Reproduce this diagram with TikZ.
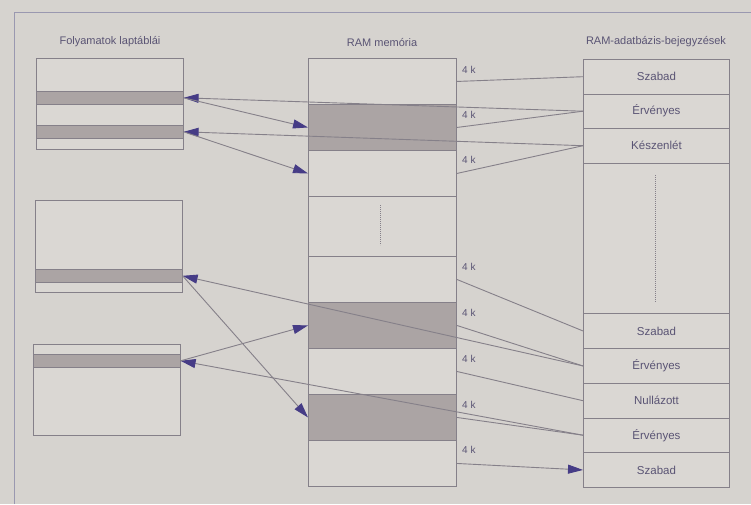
\documentclass[tikz,border=0pt]{standalone}
\usepackage{fontspec}
\setmainfont{Liberation Sans}
\usetikzlibrary{arrows.meta}
\definecolor{bg}{HTML}{D6D3CF}
\definecolor{boxc}{HTML}{DAD7D3}
\definecolor{dark}{HTML}{ABA4A4}
\definecolor{linec}{HTML}{858089}
\definecolor{framec}{HTML}{9A98B0}
\definecolor{txt}{HTML}{5A5474}
\definecolor{arrc}{HTML}{463C86}
\tikzset{
  cellbox/.style={draw=linec, line width=0.9pt, fill=boxc, rectangle, inner sep=0pt, anchor=north west, text=txt, font=\fontsize{11.5}{13}\selectfont},
  darkcell/.style={cellbox, fill=dark},
  stripebox/.style={draw=linec, line width=0.6pt, fill=dark, rectangle, inner sep=0pt, anchor=north west, minimum width=147, minimum height=13},
  conn/.style={draw=linec, line width=0.9pt},
  arr/.style={conn, -{Triangle[length=15pt,width=9pt,color=arrc]}},
  titletext/.style={text=txt, font=\fontsize{11}{13}\selectfont, inner sep=0pt},
  kb/.style={text=txt, font=\fontsize{10}{11}\selectfont, inner sep=0pt, anchor=west},
  dotline/.style={draw=linec, line width=0.9pt, dash pattern=on 0.8pt off 1.2pt}
}
\begin{document}
\begin{tikzpicture}[x=1pt,y=-1pt]
\fill[bg] (0,0) rectangle (751,504);
\useasboundingbox (0,0) rectangle (751,504);
\draw[framec, line width=0.9pt] (14,504) -- (14,12) -- (751,12);

% titles
\node[titletext] (t1) at (110,42) {Folyamatok laptáblái};
\node[titletext] (t2) at (382,42) {RAM memória};
\node[titletext] (t3) at (656,42) {RAM-adatbázis-bejegyzések};

% left page tables
\node[cellbox, minimum width=147, minimum height=91] (L1) at (36,58) {};
\node[stripebox] (s1) at (36,91) {};
\node[stripebox] (s2) at (36,125) {};
\node[cellbox, minimum width=147, minimum height=92] (L2) at (35,200) {};
\node[stripebox] (s3) at (35,269) {};
\node[cellbox, minimum width=147, minimum height=91] (L3) at (33,344) {};
\node[stripebox] (s4) at (33,354) {};

% RAM memory
\node[cellbox, minimum width=148, minimum height=46] (r1) at (308,58) {};
\node[darkcell, minimum width=148, minimum height=46] (r2) at (308,104) {};
\node[cellbox, minimum width=148, minimum height=46] (r3) at (308,150) {};
\node[cellbox, minimum width=148, minimum height=60] (rd) at (308,196) {};
\node[cellbox, minimum width=148, minimum height=46] (r4) at (308,256) {};
\node[darkcell, minimum width=148, minimum height=46] (r5) at (308,302) {};
\node[cellbox, minimum width=148, minimum height=46] (r6) at (308,348) {};
\node[darkcell, minimum width=148, minimum height=46] (r7) at (308,394) {};
\node[cellbox, minimum width=148, minimum height=46] (r8) at (308,440) {};
\draw[dotline] (380,205) -- (380,245);

% RAM database entries
\node[cellbox, minimum width=146, minimum height=34.5] (d1) at (583,59) {Szabad};
\node[cellbox, minimum width=146, minimum height=34.5] (d2) at (583,93.5) {Érvényes};
\node[cellbox, minimum width=146, minimum height=34.5] (d3) at (583,128) {Készenlét};
\node[cellbox, minimum width=146, minimum height=150.5] (dd) at (583,162.5) {};
\node[cellbox, minimum width=146, minimum height=35] (d4) at (583,313) {Szabad};
\node[cellbox, minimum width=146, minimum height=35] (d5) at (583,348) {Érvényes};
\node[cellbox, minimum width=146, minimum height=34.5] (d6) at (583,383) {Nullázott};
\node[cellbox, minimum width=146, minimum height=34.5] (d7) at (583,417.5) {Érvényes};
\node[cellbox, minimum width=146, minimum height=35] (d8) at (583,452) {Szabad};
\draw[dotline] (655,175) -- (655,302);

% 4 k labels
\node[kb] (k1) at (462,70) {4 k};
\node[kb] (k2) at (462,115) {4 k};
\node[kb] (k3) at (462,160) {4 k};
\node[kb] (k4) at (462,267) {4 k};
\node[kb] (k5) at (462,313) {4 k};
\node[kb] (k6) at (462,359) {4 k};
\node[kb] (k7) at (462,405) {4 k};
\node[kb] (k8) at (462,450) {4 k};

% RAM -> database mapping
\draw[conn] (r1.east) -- (d1.west);
\draw[conn] (r2.east) -- (d2.west);
\draw[conn] (r3.east) -- (d3.west);
\draw[conn] (r4.east) -- (d4.west);
\draw[conn] (r5.east) -- (d5.west);
\draw[conn] (r6.east) -- (d6.west);
\draw[conn] (r7.east) -- (d7.west);
\draw[arr] (r8.east) -- (d8.west);

% database -> page table entries
\draw[arr] (d2.west) -- (s1.east);
\draw[arr] (d3.west) -- (s2.east);
\draw[arr] (d5.west) -- (s3.east);
\draw[arr] (d7.west) -- (s4.east);

% page table entries -> RAM
\draw[arr] (s1.east) -- (r2.west);
\draw[arr] (s2.east) -- (r3.west);
\draw[arr] (s3.east) -- (r7.west);
\draw[arr] (s4.east) -- (r5.west);
\end{tikzpicture}
\end{document}
